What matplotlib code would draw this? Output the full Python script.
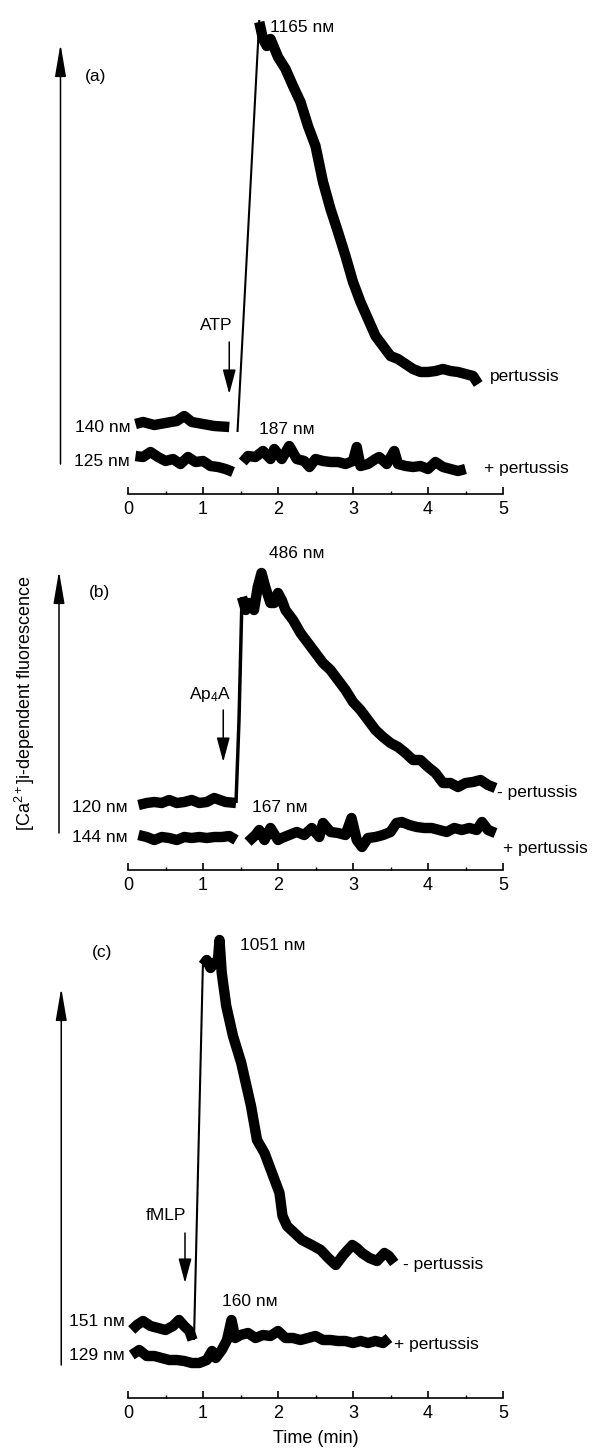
import matplotlib
matplotlib.use('Agg')
import matplotlib.pyplot as plt
from matplotlib.ticker import MultipleLocator

plt.rcParams['font.family'] = ['Liberation Sans', 'DejaVu Sans']
plt.rcParams['mathtext.fontset'] = 'custom'
plt.rcParams['mathtext.rm'] = 'Liberation Sans'
plt.rcParams['mathtext.it'] = 'Liberation Sans:italic'
plt.rcParams['mathtext.bf'] = 'Liberation Sans:bold'

# ---- panel (a): ATP ----------------------------------------------------------
a_minus_t1 = [0.10, 0.20, 0.35, 0.50, 0.65, 0.75, 0.85, 1.00, 1.15, 1.35]
a_minus_y1 = [70, 72, 69, 71, 73, 78, 72, 70, 68, 67]
a_rise_t = [1.46, 1.75]
a_rise_y = [62, 474]
a_minus_t2 = [1.75, 1.80, 1.85, 1.90, 2.00, 2.10, 2.20, 2.30, 2.40, 2.50, 2.60, 2.70,
              2.80, 2.90, 3.00, 3.10, 3.20, 3.30, 3.40, 3.50, 3.60, 3.70, 3.80, 3.90,
              4.00, 4.10, 4.20, 4.30, 4.40, 4.50, 4.60, 4.67]
a_minus_y2 = [472, 455, 448, 455, 437, 425, 408, 392, 368, 348, 312, 285,
              262, 238, 212, 192, 175, 158, 148, 138, 135, 130, 125, 122,
              122, 123, 125, 123, 122, 120, 118, 110]
a_plus_t1 = [0.10, 0.20, 0.30, 0.40, 0.50, 0.60, 0.70, 0.80, 0.90, 1.00, 1.10, 1.20, 1.30, 1.40]
a_plus_y1 = [38, 37, 42, 37, 33, 35, 30, 37, 32, 33, 28, 27, 25, 22]
a_plus_t2 = [1.53, 1.60, 1.70, 1.80, 1.90, 1.95, 2.05, 2.15, 2.25, 2.35, 2.42, 2.50,
             2.60, 2.70, 2.80, 2.90, 3.00, 3.05, 3.10, 3.20, 3.30, 3.35, 3.45, 3.55,
             3.60, 3.70, 3.80, 3.90, 4.00, 4.10, 4.20, 4.30, 4.40, 4.50]
a_plus_y2 = [32, 38, 37, 43, 35, 45, 35, 48, 35, 33, 27, 35,
             33, 32, 32, 30, 33, 47, 28, 30, 35, 37, 30, 43,
             30, 28, 27, 28, 25, 32, 27, 25, 23, 25]

# ---- panel (b): Ap4A ---------------------------------------------------------
b_minus_t1 = [0.14, 0.25, 0.35, 0.45, 0.55, 0.65, 0.75, 0.85, 0.95, 1.05, 1.15, 1.30, 1.44]
b_minus_y1 = [65, 67, 68, 67, 70, 67, 68, 70, 67, 68, 72, 68, 67]
b_rise_t = [1.44, 1.48, 1.52]
b_rise_y = [67, 150, 273]
b_minus_t2 = [1.52, 1.57, 1.62, 1.68, 1.73, 1.78, 1.83, 1.90, 1.95, 2.00, 2.05, 2.10,
              2.20, 2.30, 2.40, 2.50, 2.60, 2.70, 2.80, 2.90, 3.00, 3.10, 3.20, 3.30,
              3.40, 3.50, 3.60, 3.70, 3.80, 3.90, 4.00, 4.10, 4.20, 4.30, 4.40, 4.50,
              4.60, 4.70, 4.80, 4.90]
b_minus_y2 = [273, 260, 267, 260, 283, 297, 283, 267, 267, 277, 270, 260,
              250, 237, 227, 217, 207, 200, 190, 180, 168, 160, 150, 140,
              133, 127, 123, 117, 110, 110, 103, 97, 87, 87, 83, 87,
              88, 90, 85, 82]
b_plus_t1 = [0.14, 0.25, 0.35, 0.45, 0.55, 0.65, 0.75, 0.85, 0.95, 1.05, 1.15, 1.25, 1.35, 1.44]
b_plus_y1 = [35, 33, 30, 33, 32, 30, 33, 32, 33, 32, 33, 33, 34, 30]
b_plus_t2 = [1.60, 1.70, 1.75, 1.82, 1.90, 2.00, 2.05, 2.15, 2.25, 2.35, 2.45, 2.55,
             2.60, 2.70, 2.80, 2.90, 2.98, 3.05, 3.12, 3.20, 3.30, 3.40, 3.50, 3.58,
             3.65, 3.75, 3.85, 3.95, 4.05, 4.15, 4.25, 4.35, 4.45, 4.55, 4.65, 4.72,
             4.80, 4.90]
b_plus_y2 = [28, 35, 40, 30, 42, 30, 32, 35, 38, 35, 42, 33,
             47, 38, 37, 35, 52, 30, 23, 32, 33, 35, 38, 47,
             48, 45, 43, 42, 42, 40, 38, 42, 40, 42, 40, 48,
             40, 37]

# ---- panel (c): fMLP ---------------------------------------------------------
c_minus_t1 = [0.05, 0.12, 0.20, 0.30, 0.40, 0.50, 0.60, 0.68, 0.75, 0.82, 0.86]
c_minus_y1 = [68, 73, 77, 72, 70, 68, 72, 78, 72, 67, 58]
c_rise_t = [0.88, 1.00]
c_rise_y = [58, 438]
c_minus_t2 = [1.00, 1.05, 1.10, 1.15, 1.20, 1.22, 1.25, 1.31, 1.40, 1.51, 1.64, 1.72,
              1.82, 1.92, 2.02, 2.06, 2.12, 2.22, 2.32, 2.45, 2.57, 2.67, 2.77, 2.87,
              2.99, 3.05, 3.12, 3.22, 3.32, 3.42, 3.48, 3.55]
c_minus_y2 = [433, 438, 430, 435, 438, 458, 425, 392, 362, 335, 292, 258,
              245, 225, 205, 182, 172, 165, 158, 153, 148, 140, 133, 143,
              153, 150, 145, 140, 137, 145, 142, 135]
c_plus_t = [0.05, 0.15, 0.25, 0.35, 0.45, 0.55, 0.65, 0.75, 0.85, 0.95, 1.05, 1.12,
            1.17, 1.25, 1.32, 1.38, 1.43, 1.50, 1.60, 1.70, 1.80, 1.90, 2.00, 2.10,
            2.20, 2.30, 2.40, 2.50, 2.60, 2.70, 2.80, 2.90, 3.00, 3.10, 3.20, 3.30,
            3.40, 3.48]
c_plus_y = [43, 48, 42, 42, 40, 38, 38, 37, 35, 35, 38, 47,
            40, 48, 58, 78, 60, 63, 65, 60, 63, 62, 67, 60,
            60, 58, 60, 62, 58, 58, 57, 57, 55, 57, 55, 57,
            55, 60]

NM = 'n\u1d0d'   # nM with small-capital M, as printed

W, H = 592, 1450
fig = plt.figure(figsize=(W / 100, H / 100), dpi=100)

FS = 12.5
TRACE_LW = 7.5


def make_axes(axis_px, height_px):
    # axis_px = pixel row of the time axis line, height_px = data units (1 unit = 1 px)
    ax = fig.add_axes([128 / W, 1 - axis_px / H, 375 / W, height_px / H])
    ax.set_xlim(0, 5)
    ax.set_ylim(0, height_px)
    for s in ['top', 'right', 'left']:
        ax.spines[s].set_visible(False)
    ax.spines['bottom'].set_linewidth(1.2)
    ax.set_yticks([])
    ax.xaxis.set_major_locator(MultipleLocator(1))
    ax.xaxis.set_minor_locator(MultipleLocator(0.5))
    ax.tick_params(axis='x', which='major', direction='in', length=5, width=1.2,
                   labelsize=13, pad=5)
    ax.tick_params(axis='x', which='minor', direction='in', length=2.5, width=1.0)
    return ax


def trace(ax, t, y, lw=TRACE_LW):
    ax.plot(t, y, color='black', lw=lw, solid_joinstyle='round', solid_capstyle='butt')


def big_arrow(ax, x, y0, y1):
    ax.annotate('', xy=(x, y1), xytext=(x, y0), annotation_clip=False,
                arrowprops=dict(arrowstyle='-|>,head_length=1.0,head_width=0.17',
                                mutation_scale=20, lw=1.1, color='black',
                                shrinkA=0, shrinkB=0))


def small_arrow(ax, x, y0, y1, label, lx, ly):
    ax.annotate('', xy=(x, y1), xytext=(x, y0), annotation_clip=False,
                arrowprops=dict(arrowstyle='-|>,head_length=0.75,head_width=0.2',
                                mutation_scale=20, lw=1.1, color='black',
                                shrinkA=0, shrinkB=0))
    ax.text(lx, ly, label, ha='center', va='center', fontsize=FS)


def txt(ax, x, y, s, ha='left'):
    ax.text(x, y, s, ha=ha, va='center', fontsize=FS, clip_on=False)


# (a)
ax = make_axes(494, 484)
trace(ax, a_minus_t1, a_minus_y1)
trace(ax, a_rise_t, a_rise_y, lw=1.5)
trace(ax, a_minus_t2, a_minus_y2)
trace(ax, a_plus_t1, a_plus_y1)
trace(ax, a_plus_t2, a_plus_y2)
big_arrow(ax, -0.9, 30, 450)
txt(ax, -0.43, 418, '(a)', ha='center')
txt(ax, 1.9, 467, '1165 ' + NM)
small_arrow(ax, 1.35, 152, 100, 'ATP', 1.18, 168)
txt(ax, 0.03, 67, '140 ' + NM, ha='right')
txt(ax, 0.03, 33, '125 ' + NM, ha='right')
txt(ax, 1.75, 65, '187 ' + NM)
txt(ax, 4.83, 118, 'pertussis')
txt(ax, 4.75, 25, '+ pertussis')

# (b)
ax = make_axes(870, 332)
trace(ax, b_minus_t1, b_minus_y1)
trace(ax, b_rise_t, b_rise_y, lw=2.5)
trace(ax, b_minus_t2, b_minus_y2)
trace(ax, b_plus_t1, b_plus_y1)
trace(ax, b_plus_t2, b_plus_y2)
big_arrow(ax, -0.92, 37, 299)
txt(ax, -0.38, 278, '(b)', ha='center')
txt(ax, 2.25, 317, '486 ' + NM, ha='center')
small_arrow(ax, 1.27, 160, 108, 'Ap$_4$A', 1.09, 175)
txt(ax, 0.0, 63, '120 ' + NM, ha='right')
txt(ax, 0.0, 32, '144 ' + NM, ha='right')
txt(ax, 1.65, 63, '167 ' + NM)
txt(ax, 4.92, 77, '- pertussis')
txt(ax, 5.0, 22, '+ pertussis')

# (c)
ax = make_axes(1398, 465)
trace(ax, c_minus_t1, c_minus_y1)
trace(ax, c_rise_t, c_rise_y, lw=1.5)
trace(ax, c_minus_t2, c_minus_y2)
trace(ax, c_plus_t, c_plus_y)
big_arrow(ax, -0.89, 33, 410)
txt(ax, -0.35, 445, '(c)', ha='center')
txt(ax, 1.49, 453, '1051 ' + NM)
small_arrow(ax, 0.76, 165, 115, 'fMLP', 0.51, 182)
txt(ax, -0.04, 77, '151 ' + NM, ha='right')
txt(ax, -0.04, 43, '129 ' + NM, ha='right')
txt(ax, 1.26, 97, '160 ' + NM)
txt(ax, 3.67, 133, '- pertussis')
txt(ax, 3.55, 54, '+ pertussis')
ax.set_xlabel('Time (min)', fontsize=13, labelpad=6)

fig.text(25 / W, 1 - 703 / H, '[Ca$^{2+}$]i-dependent fluorescence', rotation=90,
         ha='center', va='center', fontsize=13)

fig.savefig('out.png', dpi=100)
